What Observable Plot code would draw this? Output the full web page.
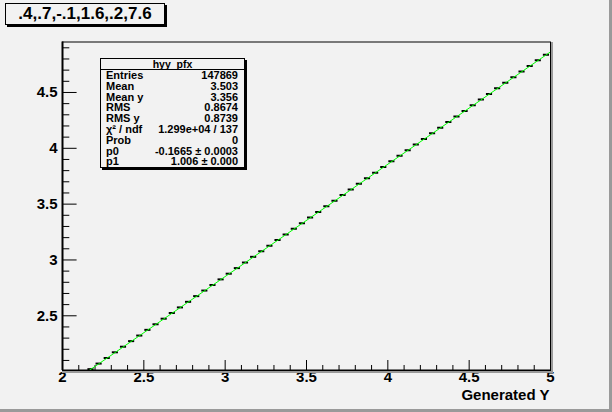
<!DOCTYPE html>
<html>
<head>
<meta charset="utf-8">
<script src="https://cdn.jsdelivr.net/npm/d3@7"></script>
<script src="https://cdn.jsdelivr.net/npm/@observablehq/plot@0.6"></script>
<style>
  html, body { margin: 0; padding: 0; background: #f2f2f2; }
  #wrap { position: relative; width: 612px; height: 412px; background: #f2f2f2; overflow: hidden;
          font-family: "Liberation Sans", Arial, Helvetica, sans-serif; font-weight: bold; color: #000; }
  #wrap svg { position: absolute; left: 0; top: 0; }
  .box { position: absolute; background: #f2f2f2; border: 1px solid #000; box-shadow: 2px 2px 0 #000; box-sizing: border-box; }
  #title { left: 5px; top: 3px; width: 160px; height: 22px; font-size: 17px; line-height: 20px; text-align: center; }
  #stats { left: 100px; top: 58px; width: 145px; height: 110px; font-size: 11px; }
  #stats .hdr { height: 11px; line-height: 10px; text-align: center; border-bottom: 1px solid #000; box-sizing: border-box; font-size: 10.5px; }
  #stats .row { height: 10.8px; line-height: 10px; display: flex; justify-content: space-between; padding: 0 6px 0 5px; }
  .bevR { position: absolute; background: #9a9a9a; }
</style>
</head>
<body>
<div id="wrap">
  <div class="bevR" style="left:609px;top:0;width:3px;height:412px"></div>
  <div class="bevR" style="left:0;top:409px;width:612px;height:3px"></div>
  <div class="bevR" style="left:551px;top:42px;width:2px;height:330px"></div>
  <div class="bevR" style="left:62px;top:371px;width:491px;height:2px"></div>
</div>
<script>
// ---- data ----
const binCenters = [2.175, 2.225, 2.275, 2.325, 2.375, 2.425, 2.475, 2.525, 2.575, 2.625,
  2.675, 2.725, 2.775, 2.825, 2.875, 2.925, 2.975, 3.025, 3.075, 3.125,
  3.175, 3.225, 3.275, 3.325, 3.375, 3.425, 3.475, 3.525, 3.575, 3.625,
  3.675, 3.725, 3.775, 3.825, 3.875, 3.925, 3.975, 4.025, 4.075, 4.125,
  4.175, 4.225, 4.275, 4.325, 4.375, 4.425, 4.475, 4.525, 4.575, 4.625,
  4.675, 4.725, 4.775, 4.825, 4.875, 4.925, 4.975];
const binMeans = [2.022, 2.072, 2.122, 2.173, 2.223, 2.273, 2.323, 2.374, 2.424, 2.474,
  2.525, 2.575, 2.625, 2.676, 2.726, 2.776, 2.826, 2.877, 2.927, 2.977,
  3.028, 3.078, 3.128, 3.179, 3.229, 3.279, 3.329, 3.380, 3.430, 3.480,
  3.531, 3.581, 3.631, 3.682, 3.732, 3.782, 3.832, 3.883, 3.933, 3.983,
  4.034, 4.084, 4.134, 4.185, 4.235, 4.285, 4.335, 4.386, 4.436, 4.486,
  4.537, 4.587, 4.637, 4.688, 4.738, 4.788, 4.838];
const binHalfWidth = 0.025;
const fitX = [2.15, 5.0];
const fitY = [1.9964, 4.8635];
const xMajor = [2, 2.5, 3, 3.5, 4, 4.5, 5];
const xMinor = [2.1, 2.2, 2.3, 2.4, 2.6, 2.7, 2.8, 2.9, 3.1, 3.2, 3.3, 3.4, 3.6, 3.7, 3.8, 3.9,
  4.1, 4.2, 4.3, 4.4, 4.6, 4.7, 4.8, 4.9];
const xLabels = ["2", "2.5", "3", "3.5", "4", "4.5", "5"];
const yMajor = [2.5, 3, 3.5, 4, 4.5];
const yMinor = [2.1, 2.2, 2.3, 2.4, 2.6, 2.7, 2.8, 2.9, 3.1, 3.2, 3.3, 3.4, 3.6, 3.7, 3.8, 3.9,
  4.1, 4.2, 4.3, 4.4, 4.6, 4.7, 4.8, 4.9];
const yLabels = ["2.5", "3", "3.5", "4", "4.5"];
const xDomain = [2, 5];
const yDomain = [2.01, 4.952];
const xTitle = "Generated Y";
const plotTitle = ".4,.7,-.1,1.6,.2,7.6";
const statsName = "hyy_pfx";
const statLabels = ["Entries", "Mean", "Mean y", "RMS", "RMS y", "χ² / ndf", "Prob", "p0", "p1"];
const statValues = ["147869", "3.503", "3.356", "0.8674", "0.8739", "1.299e+04 / 137", "0", "-0.1665 ± 0.0003", "1.006 ± 0.000"];

// ---- tables ----
const bins = binCenters.map((c, i) => ({lo: c - binHalfWidth, hi: c + binHalfWidth, v: binMeans[i]}));
const fit = fitX.map((x, i) => ({x, y: fitY[i]}));
const xl = xMajor.map((x, i) => ({x, t: xLabels[i]}));
const yl = yMajor.map((y, i) => ({y, t: yLabels[i]}));

const W = 612, H = 412, mL = 62, mR = 62, mT = 41.5, mB = 42;
const fw = W - mL - mR, fh = H - mT - mB;

const chart = Plot.plot({
  width: W, height: H,
  marginLeft: mL, marginRight: mR, marginTop: mT, marginBottom: mB,
  x: {domain: xDomain, axis: null},
  y: {domain: yDomain, axis: null},
  style: {background: "transparent", fontFamily: "'Liberation Sans', Arial, sans-serif", fontWeight: "bold", color: "black", overflow: "visible"},
  marks: [
    Plot.frame({stroke: "black", strokeWidth: 1}),
    Plot.ruleX(xMajor, {x: d => d, insetTop: fh - 10, stroke: "black", strokeWidth: 1}),
    Plot.ruleX(xMinor, {x: d => d, insetTop: fh - 5, stroke: "black", strokeWidth: 1}),
    Plot.ruleY(yMajor, {y: d => d, insetRight: fw - 14.6, stroke: "black", strokeWidth: 1}),
    Plot.ruleY(yMinor, {y: d => d, insetRight: fw - 7.3, stroke: "black", strokeWidth: 1}),
    Plot.ruleY([yDomain[0]], {stroke: "black", strokeWidth: 2}),
    Plot.ruleX([xDomain[0]], {stroke: "black", strokeWidth: 2}),
    Plot.ruleY(bins, {y: "v", x1: "lo", x2: "hi", insetLeft: 1, insetRight: 1, stroke: "black", strokeWidth: 2, clip: true}),
    Plot.line(fit, {x: "x", y: "y", stroke: "#00ff00", strokeWidth: 1, clip: true}),
    Plot.text(xl, {x: "x", text: "t", frameAnchor: "bottom", dy: 11, fontSize: 15, fontWeight: "bold", fill: "black"}),
    Plot.text(yl, {y: "y", text: "t", frameAnchor: "left", dx: -5, textAnchor: "end", fontSize: 15, fontWeight: "bold", fill: "black"}),
    Plot.text([xTitle], {text: d => d, frameAnchor: "bottom-right", dx: -1, dy: 29, textAnchor: "end", fontSize: 15, fontWeight: "bold", fill: "black"})
  ]
});

const wrap = document.getElementById("wrap");
wrap.insertBefore(chart, wrap.firstChild);

const t = document.createElement("div");
t.className = "box"; t.id = "title"; t.textContent = plotTitle;
wrap.appendChild(t);

const s = document.createElement("div");
s.className = "box"; s.id = "stats";
const hdr = document.createElement("div");
hdr.className = "hdr"; hdr.textContent = statsName;
s.appendChild(hdr);
statLabels.forEach((lab, i) => {
  const r = document.createElement("div");
  r.className = "row";
  const a = document.createElement("span"); a.textContent = lab;
  const b = document.createElement("span"); b.textContent = statValues[i];
  r.appendChild(a); r.appendChild(b);
  s.appendChild(r);
});
wrap.appendChild(s);
</script>
</body>
</html>
